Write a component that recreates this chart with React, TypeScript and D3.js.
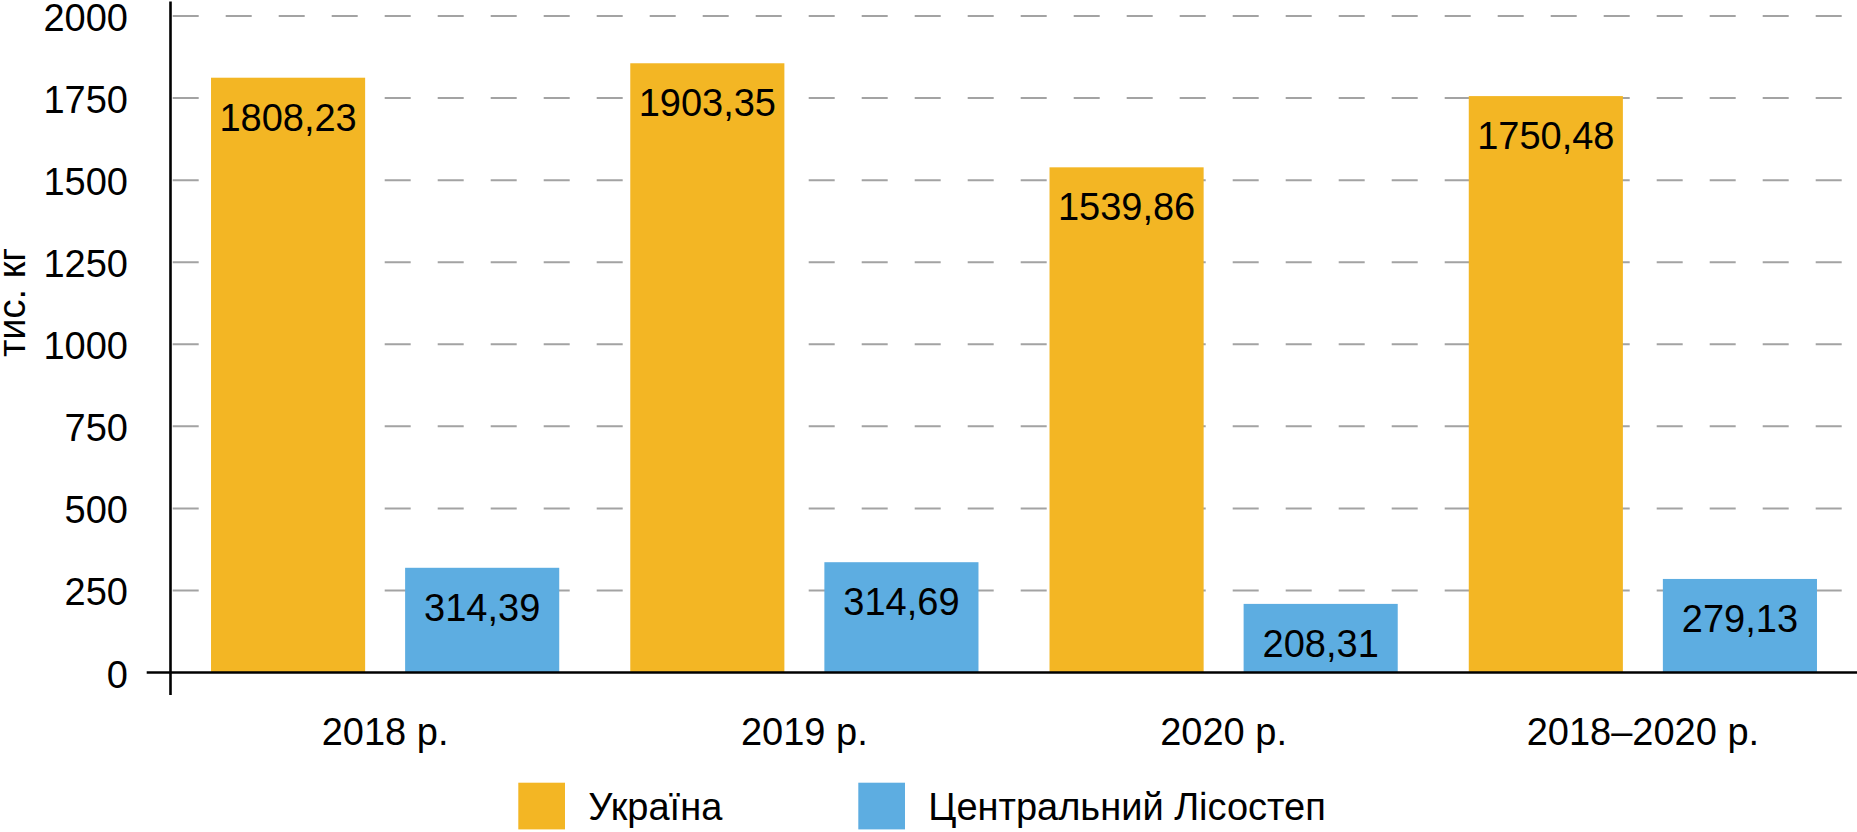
import React from "react";
import * as d3 from "d3";

const categories = ["2018 р.", "2019 р.", "2020 р.", "2018–2020 р."];
const seriesNames = ["Україна", "Центральний Лісостеп"];
const ukraineValues = [1812, 1856, 1539, 1756];
const centralValues = [319, 336, 209, 285];
const ukraineLabels = ["1808,23", "1903,35", "1539,86", "1750,48"];
const centralLabels = ["314,39", "314,69", "208,31", "279,13"];
const yTicks = [0, 250, 500, 750, 1000, 1250, 1500, 1750, 2000];
const yTitle = "тис. кг";

const W = 1857;
const H = 832;
const FONT = "'Liberation Sans', Arial, Helvetica, sans-serif";
const COLORS = ["#F3B624", "#5DADE1"];

export default function App() {
  const y = d3.scaleLinear().domain([0, 2000]).range([672.5, 16]);
  const x0 = d3
    .scaleBand<string>()
    .domain(categories)
    .range([175.5, 1852.5])
    .paddingInner(71 / 419)
    .paddingOuter(35.5 / 419);
  const x1 = d3
    .scaleBand<string>()
    .domain(seriesNames)
    .range([0, x0.bandwidth()])
    .paddingInner(0.206)
    .paddingOuter(0);

  const values = [ukraineValues, centralValues];
  const labels = [ukraineLabels, centralLabels];

  const axisX = 170.5;

  return (
    <svg
      width={W}
      height={H}
      style={{ position: "absolute", left: 0, top: 0, background: "#fff" }}
      fontFamily={FONT}
    >
      <rect x={0} y={0} width={W} height={H} fill="#fff" />
      {/* gridlines */}
      {yTicks
        .filter((t) => t > 0)
        .map((t) => (
          <line
            key={"g" + t}
            x1={172.7}
            x2={W}
            y1={y(t)}
            y2={y(t)}
            stroke="#A3A3A3"
            strokeWidth={2}
            strokeDasharray="26 27"
          />
        ))}
      {/* bars */}
      {categories.map((c, i) => (
        <g key={c} transform={`translate(${x0(c)},0)`}>
          {seriesNames.map((s, j) => {
            const v = values[j][i];
            const bx = x1(s) as number;
            const bw = x1.bandwidth();
            return (
              <g key={s}>
                <rect
                  x={bx}
                  y={y(v)}
                  width={bw}
                  height={y(0) - y(v)}
                  fill={COLORS[j]}
                />
                <text
                  x={bx + bw / 2}
                  y={y(v) + 53}
                  textAnchor="middle"
                  fontSize={38}
                  fill="#000"
                >
                  {labels[j][i]}
                </text>
              </g>
            );
          })}
        </g>
      ))}
      {/* axes */}
      <line x1={axisX} x2={axisX} y1={1.5} y2={695} stroke="#000" strokeWidth={2.6} />
      <line x1={146.7} x2={W} y1={y(0)} y2={y(0)} stroke="#000" strokeWidth={2.6} />
      {/* y tick labels */}
      {yTicks.map((t) => (
        <text
          key={"t" + t}
          x={128}
          y={y(t) + 15}
          textAnchor="end"
          fontSize={38}
          fill="#000"
        >
          {t}
        </text>
      ))}
      {/* x labels */}
      {categories.map((c) => (
        <text
          key={"x" + c}
          x={(x0(c) as number) + x0.bandwidth() / 2}
          y={745}
          textAnchor="middle"
          fontSize={38}
          fill="#000"
        >
          {c}
        </text>
      ))}
      {/* y title */}
      <text
        transform={`translate(25,302.5) rotate(-90)`}
        textAnchor="middle"
        fontSize={38}
        fill="#000"
      >
        {yTitle}
      </text>
      {/* legend */}
      {seriesNames.map((s, j) => {
        const lx = j === 0 ? 518.3 : 858.3;
        return (
          <g key={"l" + s}>
            <rect x={lx} y={782.7} width={46.7} height={46.7} fill={COLORS[j]} />
            <text x={lx + 70} y={820} fontSize={38} fill="#000">
              {s}
            </text>
          </g>
        );
      })}
    </svg>
  );
}
